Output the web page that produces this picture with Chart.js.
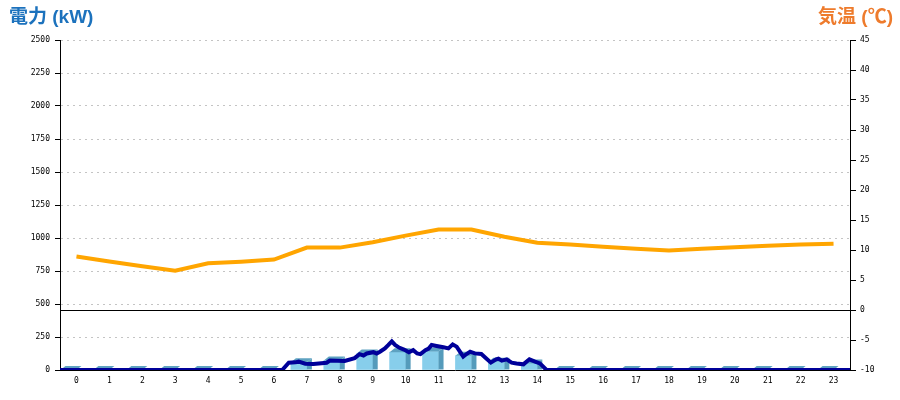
<!DOCTYPE html>
<html lang="ja">
<head>
<meta charset="utf-8">
<title>電力と気温</title>
<script src="https://cdn.jsdelivr.net/npm/chart.js@4.4.1/dist/chart.umd.min.js"></script>
<style>
  html, body { margin: 0; padding: 0; background: #fff; }
  #wrap { position: relative; width: 900px; height: 400px; }
  .titulo { position: absolute; top: 6px; font: bold 19px "Liberation Sans", "Noto Sans CJK JP", sans-serif; line-height: 22px; white-space: nowrap; }
  #titulo-kw { left: 9px; color: #1c72bd; }
  #titulo-temp { right: 7px; color: #ee7b2c; }
</style>
</head>
<body>
<div id="wrap">
  <canvas id="grafico" width="900" height="400"></canvas>
  <div class="titulo" id="titulo-kw">電力 (kW)</div>
  <div class="titulo" id="titulo-temp">気温 (℃)</div>
</div>
<script>
// horas do dia (eixo x)
const horas = ['0', '1', '2', '3', '4', '5', '6', '7', '8', '9', '10', '11',
  '12', '13', '14', '15', '16', '17', '18', '19', '20', '21', '22', '23'];

// consumo por hora (kW) - barras
const consumoHora = [0, 0, 0, 0, 0, 0, 0, 58, 72, 125, 135, 140, 108, 63, 50, 0, 0, 0, 0, 0, 0, 0, 0, 0];

// temperatura por hora (C) - linha laranja
const temperatura = [8.9, 8.1, 7.3, 6.55, 7.8, 8.05, 8.4, 10.4, 10.4, 11.3, 12.4, 13.4,
  13.4, 12.2, 11.2, 10.9, 10.55, 10.2, 9.9, 10.2, 10.45, 10.7, 10.9, 11.05];

// consumo instantaneo: tempo (h) e valor (kW) - linha azul
const tempoInst = [0, 6.75, 6.95, 7.15, 7.25, 7.45, 7.7, 8.1, 8.2, 8.65, 8.95, 9.1, 9.22, 9.32,
  9.52, 9.62, 9.72, 9.87, 9.97, 10.08, 10.18, 10.3, 10.45, 10.6, 10.73, 10.85, 10.95, 11.1,
  11.2, 11.29, 11.44, 11.65, 11.8, 11.93, 12.05, 12.15, 12.25, 12.35, 12.46, 12.6, 12.8,
  12.95, 13.09, 13.25, 13.32, 13.42, 13.57, 13.72, 13.87, 14.08, 14.26, 14.43, 14.58, 14.68,
  14.78, 24];
const consumoInst = [0, 0, 55, 58, 63, 48, 45, 55, 72, 68, 90, 120, 110, 125,
  135, 125, 138, 163, 188, 217, 190, 170, 155, 135, 150, 125, 120, 150,
  162, 189, 182, 172, 164, 194, 177, 139, 101, 121, 139, 126, 121,
  88, 56, 81, 86, 71, 81, 56, 50, 43, 81, 63, 50, 25,
  0, 0];

// ticks
const ticksKw = { min: 0, max: 2500, passo: 250 };
const ticksTemp = { min: -10, max: 45, passo: 5 };

const fonte = { family: '"DejaVu Sans Mono", monospace', size: 8 };
const semVirgula = v => String(v);

// desenha as faces de cima e do lado das barras (efeito 3D)
const barras3d = {
  id: 'barras3d',
  afterDatasetDraw(chart, args) {
    if (args.meta.type !== 'bar') return;
    const ctx = chart.ctx;
    const dx = 5, dy = 4;
    args.meta.data.forEach(bar => {
      const p = bar.getProps(['x', 'y', 'base', 'width'], true);
      const esq = p.x - p.width / 2;
      const dir = p.x + p.width / 2;
      ctx.save();
      ctx.fillStyle = '#5ea2c1';
      ctx.beginPath();
      ctx.moveTo(esq, p.y);
      ctx.lineTo(esq + dx, p.y - dy);
      ctx.lineTo(dir + dx, p.y - dy);
      ctx.lineTo(dir, p.y);
      ctx.closePath();
      ctx.fill();
      if (p.base - p.y > 0) {
        ctx.fillStyle = '#559bbb';
        ctx.beginPath();
        ctx.moveTo(dir, p.y);
        ctx.lineTo(dir + dx, p.y - dy);
        ctx.lineTo(dir + dx, p.base);
        ctx.lineTo(dir, p.base);
        ctx.closePath();
        ctx.fill();
      }
      ctx.restore();
    });
  }
};

const ctx = document.getElementById('grafico').getContext('2d');

new Chart(ctx, {
  type: 'bar',
  data: {
    labels: horas,
    datasets: [
      {
        type: 'line',
        label: '気温',
        data: temperatura,
        xAxisID: 'x',
        yAxisID: 'y2',
        borderColor: '#ffa500',
        borderWidth: 4,
        pointRadius: 0,
        tension: 0,
        order: 0
      },
      {
        type: 'line',
        label: '電力',
        data: tempoInst.map((t, i) => ({ x: t, y: consumoInst[i] })),
        xAxisID: 'xt',
        yAxisID: 'y',
        borderColor: '#000099',
        borderWidth: 4,
        pointRadius: 0,
        tension: 0,
        order: 1
      },
      {
        type: 'bar',
        label: '電力量',
        data: consumoHora,
        xAxisID: 'x',
        yAxisID: 'y',
        backgroundColor: '#87ceeb',
        borderWidth: 0,
        barThickness: 16,
        order: 2
      }
    ]
  },
  options: {
    responsive: false,
    animation: false,
    layout: { padding: { top: 40 } },
    plugins: {
      legend: { display: false },
      tooltip: { enabled: false }
    },
    scales: {
      x: {
        type: 'category',
        offset: true,
        grid: { drawOnChartArea: false, drawTicks: false },
        border: { color: '#000' },
        ticks: { color: '#000', font: fonte, padding: 6, maxRotation: 0, autoSkip: false },
        afterFit: s => { s.height = 30; }
      },
      xt: {
        type: 'linear',
        display: false,
        min: 0,
        max: 24,
        offset: false
      },
      y: {
        position: 'left',
        min: ticksKw.min,
        max: ticksKw.max,
        ticks: { stepSize: ticksKw.passo, color: '#000', font: fonte, padding: 5, callback: semVirgula },
        grid: { color: '#c4c4c4', tickColor: '#000', tickLength: 5 },
        border: { color: '#000', dash: [2, 4] },
        afterFit: s => { s.width = 60; }
      },
      y2: {
        position: 'right',
        min: ticksTemp.min,
        max: ticksTemp.max,
        ticks: { stepSize: ticksTemp.passo, color: '#000', font: fonte, padding: 4, callback: semVirgula },
        grid: {
          color: c => (c.tick && c.tick.value === 0 ? '#000' : 'rgba(0,0,0,0)'),
          tickColor: '#000',
          tickLength: 6
        },
        border: { color: '#000' },
        afterFit: s => { s.width = 50; }
      }
    }
  },
  plugins: [barras3d]
});
</script>
</body>
</html>
